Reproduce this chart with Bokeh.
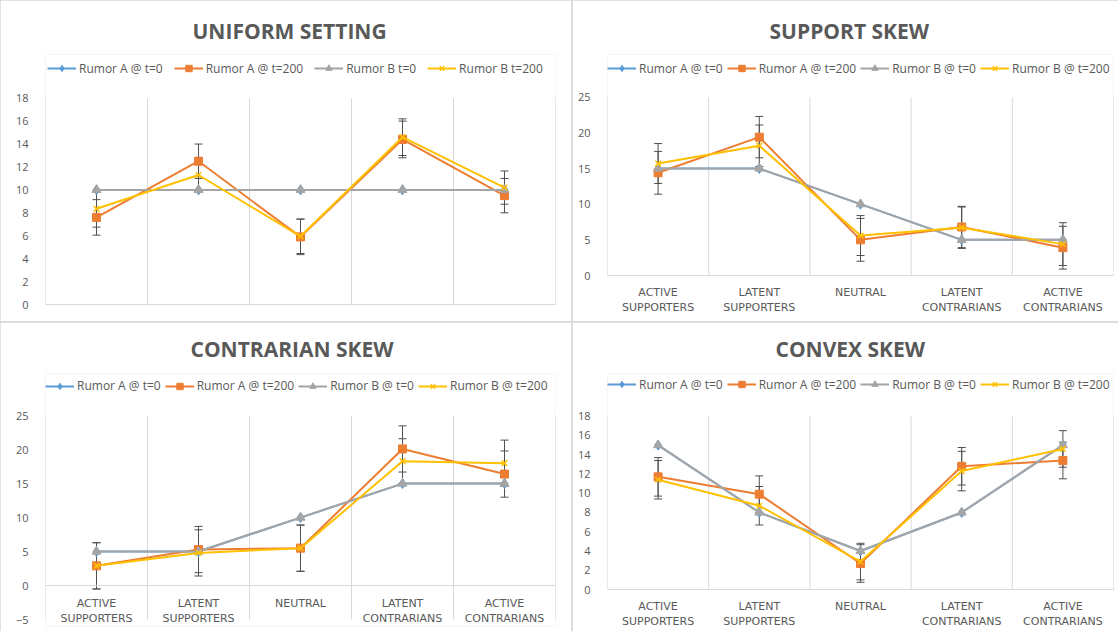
from bokeh.plotting import figure
from bokeh.models import (ColumnDataSource, Whisker, TeeHead, Legend, LegendItem,
                          FixedTicker, Range1d)
from bokeh.layouts import row, column
from bokeh.embed import file_html
from bokeh.resources import INLINE

# ---------------- data ----------------
categories = ["ACTIVE\nSUPPORTERS", "LATENT\nSUPPORTERS", "NEUTRAL",
              "LATENT\nCONTRARIANS", "ACTIVE\nCONTRARIANS"]

uniform_a_t0 = [10, 10, 10, 10, 10]
uniform_a_t200 = [7.6, 12.5, 5.9, 14.4, 9.5]
uniform_b_t0 = [10, 10, 10, 10, 10]
uniform_b_t200 = [8.35, 11.3, 5.95, 14.6, 10.2]
uniform_a_err = [1.55, 1.5, 1.55, 1.6, 1.5]
uniform_b_err = [1.6, 1.5, 1.5, 1.6, 1.45]

support_a_t0 = [15, 15, 10, 5, 5]
support_a_t200 = [14.4, 19.4, 5.0, 6.8, 3.9]
support_b_t0 = [15, 15, 10, 5, 5]
support_b_t200 = [15.7, 18.2, 5.6, 6.7, 4.4]
support_a_err = [3.0, 2.9, 3.0, 2.9, 3.0]
support_b_err = [2.8, 2.9, 2.8, 2.9, 3.0]

contrarian_a_t0 = [5, 5, 10, 15, 15]
contrarian_a_t200 = [2.9, 5.3, 5.5, 20.1, 16.4]
contrarian_b_t0 = [5, 5, 10, 15, 15]
contrarian_b_t200 = [2.9, 4.8, 5.5, 18.3, 18.0]
contrarian_a_err = [3.4, 3.4, 3.4, 3.4, 3.4]
contrarian_b_err = [3.4, 3.4, 3.4, 3.3, 3.4]

convex_a_t0 = [15, 8, 4, 8, 15]
convex_a_t200 = [11.7, 9.9, 2.7, 12.8, 13.4]
convex_b_t0 = [15, 8, 4, 8, 15]
convex_b_t200 = [11.4, 8.7, 2.9, 12.3, 14.6]
convex_a_err = [2.0, 1.9, 1.95, 1.95, 1.9]
convex_b_err = [2.0, 2.0, 1.9, 2.05, 1.9]

labels_uniform = ["Rumor A @ t=0", "Rumor A @ t=200", "Rumor B t=0", "Rumor B t=200"]
labels_other = ["Rumor A @ t=0", "Rumor A @ t=200", "Rumor B @ t=0", "Rumor B @ t=200"]

# ---------------- styling ----------------
BLUE, ORANGE, GREY, YELLOW = "#5B9BD5", "#ED7D31", "#A5A5A5", "#FFC000"
TEXT = "#595959"
GRID = "#D9D9D9"
ERR = "#505050"
FONT = "Open Sans"


def panel(title, labels, a0, a200, b0, b200, ea, eb, ymin, ymax, ystep, geo,
          show_cats=True, axis_at_zero=False):
    # geo: pixel layout of the panel (relative to the panel's top-left corner)
    w, h, ml, mr = geo["w"], geo["h"], geo["ml"], geo["mr"]
    mt = int(geo["ext_top"])
    mb = int(geo["mb"])
    ext_top, ext_bottom = mt, h - mb
    data_top, data_bottom = geo["data_top"], geo["data_bottom"]
    units_per_px = (ymax - ymin) / (data_bottom - data_top)
    r_top = ymax + (data_top - ext_top) * units_per_px
    r_bot = ymin - (ext_bottom - data_bottom) * units_per_px

    n = len(categories)
    xs = [i + 0.5 for i in range(n)]
    p = figure(width=w, height=h, x_range=Range1d(0, n), y_range=Range1d(r_bot, r_top),
               output_backend="svg", toolbar_location=None,
               min_border_left=ml, min_border_right=mr,
               min_border_top=mt, min_border_bottom=mb,
               outline_line_color=None, background_fill_color="white", border_fill_color="white")
    p.title.text = title
    p.title.align = "left"
    p.title.offset = geo["title_off"]
    p.title.text_font = FONT
    p.title.text_font_size = "21px"
    p.title.text_font_style = "bold"
    p.title.text_color = TEXT
    p.title.standoff = int(round(2 * (ext_top - geo["title_y"] - 13)))

    # vertical lines between categories, spanning the value range only
    p.xgrid.grid_line_color = None
    p.ygrid.grid_line_color = None
    gx = list(range(0, n + 1))
    p.segment(x0=gx, y0=[ymin] * len(gx), x1=gx, y1=[ymax] * len(gx),
              line_color=GRID, line_width=1, level="underlay")

    # y axis
    p.yaxis.ticker = FixedTicker(ticks=list(range(ymin, ymax + 1, ystep)))
    p.yaxis.axis_line_color = None
    p.yaxis.major_tick_line_color = None
    p.yaxis.minor_tick_line_color = None
    p.yaxis.major_label_standoff = 11
    p.yaxis.major_label_text_font = FONT
    p.yaxis.major_label_text_font_size = "11px"
    p.yaxis.major_label_text_color = TEXT

    # x axis
    xa = p.xaxis[0]
    xa.axis_line_color = GRID
    xa.major_tick_line_color = None
    xa.minor_tick_line_color = None
    if show_cats:
        xa.ticker = FixedTicker(ticks=xs)
        xa.major_label_overrides = {x: c for x, c in zip(xs, categories)}
    else:
        xa.ticker = FixedTicker(ticks=[])
    xa.major_label_standoff = geo["cat_standoff"]
    xa.major_label_text_font = "DejaVu Sans"
    xa.major_label_text_font_size = "11px"
    xa.major_label_text_color = TEXT
    if axis_at_zero:
        xa.fixed_location = 0

    # error bars (t=200 series)
    for vals, errs in ((a200, ea), (b200, eb)):
        src = ColumnDataSource(dict(x=xs,
                                    upper=[v + e for v, e in zip(vals, errs)],
                                    lower=[v - e for v, e in zip(vals, errs)]))
        wk = Whisker(source=src, base="x", upper="upper", lower="lower",
                     line_color=ERR, line_width=1,
                     upper_head=TeeHead(size=8, line_color=ERR, line_width=1),
                     lower_head=TeeHead(size=8, line_color=ERR, line_width=1))
        p.add_layout(wk)

    items = []
    specs = [(a0, BLUE, "diamond", 10, labels[0]),
             (a200, ORANGE, "square", 8, labels[1]),
             (b0, GREY, "triangle", 9, labels[2]),
             (b200, YELLOW, "x", 8, labels[3])]
    for vals, col, mk, sz, lab in specs:
        src = ColumnDataSource(dict(x=xs, y=vals))
        ln = p.line("x", "y", source=src, line_color=col, line_width=2)
        sc = p.scatter("x", "y", source=src, marker=mk, size=sz,
                       fill_color=col, line_color=col, line_width=1.5 if mk == "x" else 1)
        items.append(LegendItem(label=lab, renderers=[ln, sc]))

    lg = Legend(items=items, orientation="horizontal",
                location=(geo["leg_dx"], ext_bottom - (geo["leg_y"] + 10)),
                label_text_font=FONT, label_text_font_size="12px", label_text_color=TEXT,
                glyph_width=29, glyph_height=16, label_height=20, label_standoff=3,
                spacing=geo["leg_spacing"],
                padding=0, margin=0, border_line_alpha=0, background_fill_alpha=0)
    p.add_layout(lg)
    return p


geo_tl = dict(w=571, h=321, ml=45, mr=16, data_top=97.7, data_bottom=304, ext_top=54, mb=17,
              title_y=31, title_off=147, leg_y=68, leg_dx=2, leg_spacing=11, cat_standoff=4)
geo_tr = dict(w=546, h=321, ml=35, mr=5, data_top=96.7, data_bottom=275, ext_top=54, mb=46,
              title_y=31, title_off=162, leg_y=68, leg_dx=0, leg_spacing=4, cat_standoff=4)
geo_bl = dict(w=571, h=309, ml=45, mr=16, data_top=92.3, data_bottom=297, ext_top=50, mb=5,
              title_y=26.3, title_off=145, leg_y=63.7, leg_dx=0, leg_spacing=4, cat_standoff=5)
geo_br = dict(w=546, h=309, ml=35, mr=5, data_top=91.3, data_bottom=267, ext_top=48, mb=42,
              title_y=24.7, title_off=168, leg_y=62.3, leg_dx=0, leg_spacing=4, cat_standoff=4)

p1 = panel("UNIFORM SETTING", labels_uniform, uniform_a_t0, uniform_a_t200, uniform_b_t0,
           uniform_b_t200, uniform_a_err, uniform_b_err, 0, 18, 2, geo_tl, show_cats=False)
p3 = panel("CONTRARIAN SKEW", labels_other, contrarian_a_t0, contrarian_a_t200, contrarian_b_t0,
           contrarian_b_t200, contrarian_a_err, contrarian_b_err, -5, 25, 5, geo_bl,
           axis_at_zero=True)
p2 = panel("SUPPORT SKEW", labels_other, support_a_t0, support_a_t200, support_b_t0,
           support_b_t200, support_a_err, support_b_err, 0, 25, 5, geo_tr)
p4 = panel("CONVEX SKEW", labels_other, convex_a_t0, convex_a_t200, convex_b_t0,
           convex_b_t200, convex_a_err, convex_b_err, 0, 18, 2, geo_br)

layout = row(column(p1, p3, spacing=1), column(p2, p4, spacing=1), spacing=1,
             styles={"background-color": GRID})

open("out.html", "w").write(file_html(layout, INLINE))
